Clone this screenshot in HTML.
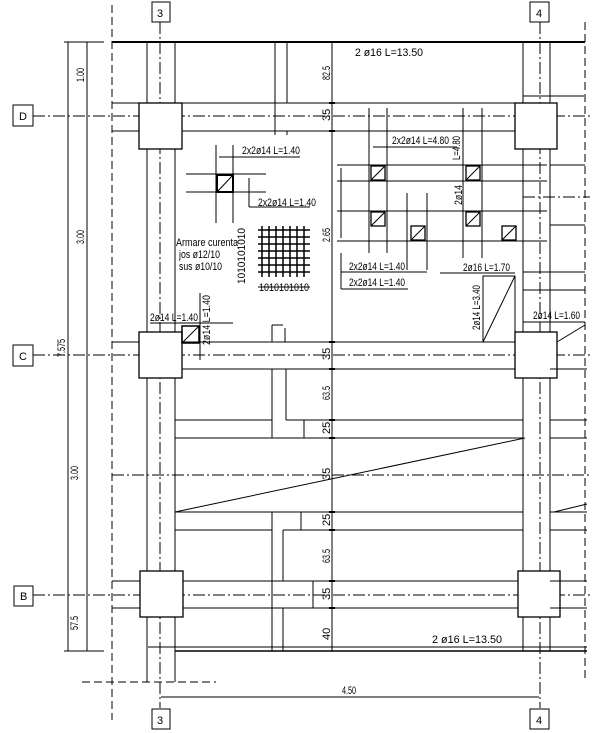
<!DOCTYPE html>
<html><head><meta charset="utf-8"><style>
html,body{margin:0;padding:0;background:#fff;}
svg{display:block;}
text{font-family:"Liberation Sans",sans-serif;font-size:11px;fill:#000;}
</style></head><body>
<svg width="600" height="733" viewBox="0 0 600 733" xmlns="http://www.w3.org/2000/svg">
<g stroke="#000" stroke-width="1" fill="none">
<g stroke-dasharray="8 4">
<line x1="112" y1="5" x2="112" y2="720"/>
<line x1="585" y1="22" x2="585" y2="680"/>
<line x1="82" y1="682" x2="216" y2="682"/>
</g>
<g stroke-dasharray="12 3 2 3">
<line x1="160" y1="22" x2="160" y2="708"/>
<line x1="540" y1="22" x2="540" y2="708"/>
<line x1="33" y1="116" x2="590" y2="116"/>
<line x1="33" y1="355" x2="590" y2="355"/>
<line x1="33" y1="595" x2="590" y2="595"/>
<line x1="112" y1="475" x2="590" y2="475"/>
<line x1="523" y1="197" x2="590" y2="197"/>
</g>
<rect x="152" y="2" width="18" height="20"/><rect x="530" y="2" width="19" height="20"/>
<rect x="152" y="709" width="18" height="20"/><rect x="530" y="709" width="19" height="20"/>
<rect x="13" y="105" width="20" height="21"/><rect x="13" y="345" width="20" height="21"/><rect x="14" y="586" width="19" height="20"/>
<line x1="112" y1="42" x2="585" y2="42" stroke-width="2"/>
<line x1="148" y1="647" x2="587" y2="647"/>
<line x1="175" y1="651" x2="587" y2="651" stroke-width="1.5"/>
<line x1="147" y1="42" x2="147" y2="682"/><line x1="175" y1="42" x2="175" y2="682"/>
<line x1="523" y1="42" x2="523" y2="651"/><line x1="550" y1="42" x2="550" y2="651"/>
<g fill="#fff" stroke-width="1.3">
<rect x="139" y="103" width="43" height="46"/><rect x="515" y="103" width="42" height="46"/>
<rect x="139" y="332" width="43" height="46"/><rect x="515" y="332" width="42" height="46"/>
<rect x="140" y="571" width="43" height="46"/><rect x="518" y="571" width="42" height="46"/>
</g>
<line x1="112" y1="103" x2="139" y2="103"/><line x1="112" y1="131" x2="139" y2="131"/>
<line x1="182" y1="103" x2="515" y2="103"/><line x1="182" y1="131" x2="515" y2="131"/>
<line x1="112" y1="342" x2="139" y2="342"/><line x1="182" y1="342" x2="515" y2="342"/>
<line x1="182" y1="369" x2="515" y2="369"/>
<line x1="112" y1="581" x2="140" y2="581"/><line x1="112" y1="608" x2="140" y2="608"/>
<line x1="183" y1="581" x2="518" y2="581"/><line x1="183" y1="608" x2="518" y2="608"/>
<line x1="275" y1="42" x2="275" y2="131"/><line x1="287" y1="42" x2="287" y2="103"/>
<line x1="275" y1="131" x2="275" y2="135"/><line x1="287" y1="131" x2="287" y2="135"/>
<line x1="272" y1="325" x2="283" y2="325"/><line x1="272" y1="325" x2="272" y2="342"/><line x1="285" y1="328" x2="285" y2="342"/>
<line x1="272" y1="369" x2="272" y2="438"/>
<line x1="286" y1="369" x2="286" y2="420"/>
<line x1="304" y1="420" x2="304" y2="438"/>
<line x1="272" y1="512" x2="272" y2="651"/><line x1="283" y1="530" x2="283" y2="581"/><line x1="283" y1="608" x2="283" y2="651"/>
<line x1="301" y1="512" x2="301" y2="530"/><line x1="313" y1="581" x2="313" y2="608"/>
<line x1="286" y1="420" x2="523" y2="420"/><line x1="175" y1="420" x2="272" y2="420"/>
<line x1="175" y1="438" x2="523" y2="438"/>
<line x1="175" y1="512" x2="523" y2="512"/>
<line x1="175" y1="530" x2="272" y2="530"/><line x1="283" y1="530" x2="523" y2="530"/>
<line x1="550" y1="420" x2="587" y2="420"/><line x1="550" y1="438" x2="587" y2="438"/>
<line x1="550" y1="512" x2="587" y2="512"/><line x1="550" y1="530" x2="587" y2="530"/>
<line x1="550" y1="581" x2="587" y2="581"/><line x1="550" y1="608" x2="587" y2="608"/>
<line x1="550" y1="369" x2="587" y2="369"/>
<line x1="175" y1="512" x2="525" y2="438"/>
<line x1="554" y1="512" x2="587" y2="504"/>
<line x1="332" y1="42" x2="332" y2="651"/>
<g stroke-width="2">
<line x1="329" y1="103" x2="335" y2="103"/><line x1="329" y1="131" x2="335" y2="131"/>
<line x1="329" y1="342" x2="335" y2="342"/><line x1="329" y1="369" x2="335" y2="369"/>
<line x1="329" y1="420" x2="335" y2="420"/><line x1="329" y1="438" x2="335" y2="438"/>
<line x1="329" y1="512" x2="335" y2="512"/><line x1="329" y1="530" x2="335" y2="530"/>
<line x1="329" y1="581" x2="335" y2="581"/><line x1="329" y1="608" x2="335" y2="608"/>
</g>
<line x1="523" y1="96" x2="584" y2="96"/>
<line x1="550" y1="165" x2="585" y2="165"/>
<line x1="550" y1="225" x2="585" y2="225"/>
<line x1="523" y1="272" x2="585" y2="272"/>
<line x1="523" y1="290" x2="585" y2="290"/>
<line x1="523" y1="322" x2="585" y2="322"/>
<line x1="557" y1="342" x2="585" y2="325"/>
<line x1="68" y1="42" x2="68" y2="651"/><line x1="87" y1="42" x2="87" y2="651"/>
<line x1="64" y1="42" x2="104" y2="42"/><line x1="64" y1="651" x2="104" y2="651"/>
<line x1="161" y1="697" x2="539" y2="697"/>
<line x1="337" y1="165" x2="547" y2="165"/><line x1="337" y1="181" x2="547" y2="181"/>
<line x1="337" y1="211" x2="547" y2="211"/><line x1="337" y1="241" x2="547" y2="241"/>
<line x1="369" y1="108" x2="369" y2="253"/><line x1="387" y1="108" x2="387" y2="253"/>
<line x1="407" y1="193" x2="407" y2="270"/><line x1="427" y1="193" x2="427" y2="270"/>
<line x1="463" y1="108" x2="463" y2="258"/><line x1="482" y1="108" x2="482" y2="258"/>
<line x1="341" y1="168" x2="341" y2="238"/>
<line x1="341" y1="253" x2="341" y2="289"/><line x1="341" y1="289" x2="408" y2="289"/>
<line x1="341" y1="272" x2="427" y2="272"/>
<line x1="440" y1="273" x2="515" y2="273"/>
<line x1="373" y1="147" x2="457" y2="147"/>
<g stroke-width="1.3">
<rect x="371" y="166" width="14" height="14"/><rect x="371" y="212" width="14" height="14"/>
<rect x="411" y="226" width="14" height="14"/><rect x="466" y="166" width="14" height="14"/>
<rect x="466" y="212" width="14" height="14"/><rect x="502" y="226" width="14" height="14"/>
</g>
<line x1="371" y1="180" x2="385" y2="166"/><line x1="371" y1="226" x2="385" y2="212"/>
<line x1="411" y1="240" x2="425" y2="226"/><line x1="466" y1="180" x2="480" y2="166"/>
<line x1="466" y1="226" x2="480" y2="212"/><line x1="502" y1="240" x2="516" y2="226"/>
<rect x="483" y="276" width="32" height="66"/><line x1="483" y1="342" x2="515" y2="276"/>
<line x1="186" y1="174" x2="266" y2="174"/><line x1="186" y1="192" x2="266" y2="192"/>
<line x1="216" y1="145" x2="216" y2="223"/><line x1="233" y1="145" x2="233" y2="223"/>
<rect x="217" y="175" width="16" height="17" stroke-width="2"/><line x1="217" y1="192" x2="233" y2="175"/>
<line x1="219" y1="157" x2="300" y2="157"/>
<line x1="249" y1="178" x2="249" y2="207"/><line x1="249" y1="207" x2="310" y2="207"/>
<line x1="150" y1="323" x2="233" y2="323"/>
<line x1="200" y1="293" x2="200" y2="360"/>
<rect x="182" y="326" width="17" height="17" stroke-width="1.5"/><line x1="182" y1="343" x2="199" y2="326"/>
<g stroke-width="1.5">
<line x1="258" y1="230" x2="310" y2="230"/><line x1="258" y1="237" x2="310" y2="237"/><line x1="258" y1="244" x2="310" y2="244"/><line x1="258" y1="251" x2="310" y2="251"/><line x1="258" y1="258" x2="310" y2="258"/><line x1="258" y1="265" x2="310" y2="265"/><line x1="258" y1="272" x2="310" y2="272"/>
<line x1="262" y1="226" x2="262" y2="277"/><line x1="269" y1="226" x2="269" y2="277"/><line x1="276" y1="226" x2="276" y2="277"/><line x1="283" y1="226" x2="283" y2="277"/><line x1="290" y1="226" x2="290" y2="277"/><line x1="297" y1="226" x2="297" y2="277"/><line x1="304" y1="226" x2="304" y2="277"/>
</g>
<line x1="258" y1="287" x2="310" y2="287"/>
</g>
<g font-size="10">
<text x="157" y="17">3</text><text x="536" y="17">4</text>
<text x="157" y="724">3</text><text x="536" y="724">4</text>
<text x="19" y="120">D</text><text x="19" y="360">C</text><text x="20" y="600">B</text>
<text x="355" y="56" textLength="68" lengthAdjust="spacingAndGlyphs">2 ø16 L=13.50</text>
<text x="432" y="643" textLength="70" lengthAdjust="spacingAndGlyphs">2 ø16 L=13.50</text>
<text x="342" y="694" textLength="14" lengthAdjust="spacingAndGlyphs">4.50</text>
<text x="242" y="154" textLength="58" lengthAdjust="spacingAndGlyphs">2x2ø14 L=1.40</text>
<text x="258" y="206" textLength="58" lengthAdjust="spacingAndGlyphs">2x2ø14 L=1.40</text>
<text x="392" y="144" textLength="57" lengthAdjust="spacingAndGlyphs">2x2ø14 L=4.80</text>
<text x="349" y="270" textLength="56" lengthAdjust="spacingAndGlyphs">2x2ø14 L=1.40</text>
<text x="349" y="286" textLength="56" lengthAdjust="spacingAndGlyphs">2x2ø14 L=1.40</text>
<text x="463" y="271" textLength="47" lengthAdjust="spacingAndGlyphs">2ø16 L=1.70</text>
<text x="150" y="321" textLength="48" lengthAdjust="spacingAndGlyphs">2ø14 L=1.40</text>
<text x="533" y="319" textLength="47" lengthAdjust="spacingAndGlyphs">2ø14 L=1.60</text>
<text x="176" y="246" textLength="62" lengthAdjust="spacingAndGlyphs">Armare curenta</text>
<text x="179" y="258" textLength="41" lengthAdjust="spacingAndGlyphs">jos ø12/10</text>
<text x="179" y="270" textLength="43" lengthAdjust="spacingAndGlyphs">sus ø10/10</text>
<text x="259" y="291" font-size="8" textLength="50" lengthAdjust="spacingAndGlyphs">1010101010</text>
<g font-size="9">
<text transform="translate(84,82) rotate(-90)" textLength="14" lengthAdjust="spacingAndGlyphs">1.00</text>
<text transform="translate(84,244) rotate(-90)" textLength="14" lengthAdjust="spacingAndGlyphs">3.00</text>
<text transform="translate(65,357) rotate(-90)" textLength="18" lengthAdjust="spacingAndGlyphs">7.575</text>
<text transform="translate(78,480) rotate(-90)" textLength="14" lengthAdjust="spacingAndGlyphs">3.00</text>
<text transform="translate(78,630) rotate(-90)" textLength="14" lengthAdjust="spacingAndGlyphs">57.5</text>
<text transform="translate(330,80) rotate(-90)" textLength="14" lengthAdjust="spacingAndGlyphs">82.5</text>
<text transform="translate(330,121) rotate(-90)">35</text>
<text transform="translate(330,242) rotate(-90)" textLength="14" lengthAdjust="spacingAndGlyphs">2.65</text>
<text transform="translate(330,360) rotate(-90)">35</text>
<text transform="translate(330,400) rotate(-90)" textLength="14" lengthAdjust="spacingAndGlyphs">63.5</text>
<text transform="translate(330,434) rotate(-90)">25</text>
<text transform="translate(330,480) rotate(-90)">35</text>
<text transform="translate(330,526) rotate(-90)">25</text>
<text transform="translate(330,563) rotate(-90)" textLength="14" lengthAdjust="spacingAndGlyphs">63.5</text>
<text transform="translate(330,600) rotate(-90)">35</text>
<text transform="translate(330,640) rotate(-90)">40</text>
<text transform="translate(245,284) rotate(-90)" font-size="8" textLength="56" lengthAdjust="spacingAndGlyphs">1010101010</text>
<text transform="translate(460,160) rotate(-90)" textLength="24" lengthAdjust="spacingAndGlyphs">L=4.80</text>
<text transform="translate(462,205) rotate(-90)" textLength="20" lengthAdjust="spacingAndGlyphs">2ø14</text>
<text transform="translate(480,330) rotate(-90)" textLength="45" lengthAdjust="spacingAndGlyphs">2ø14 L=3.40</text>
<text transform="translate(210,345) rotate(-90)" textLength="50" lengthAdjust="spacingAndGlyphs">2ø14 L=1.40</text>
</g>
</g>
</svg>
</body></html>
